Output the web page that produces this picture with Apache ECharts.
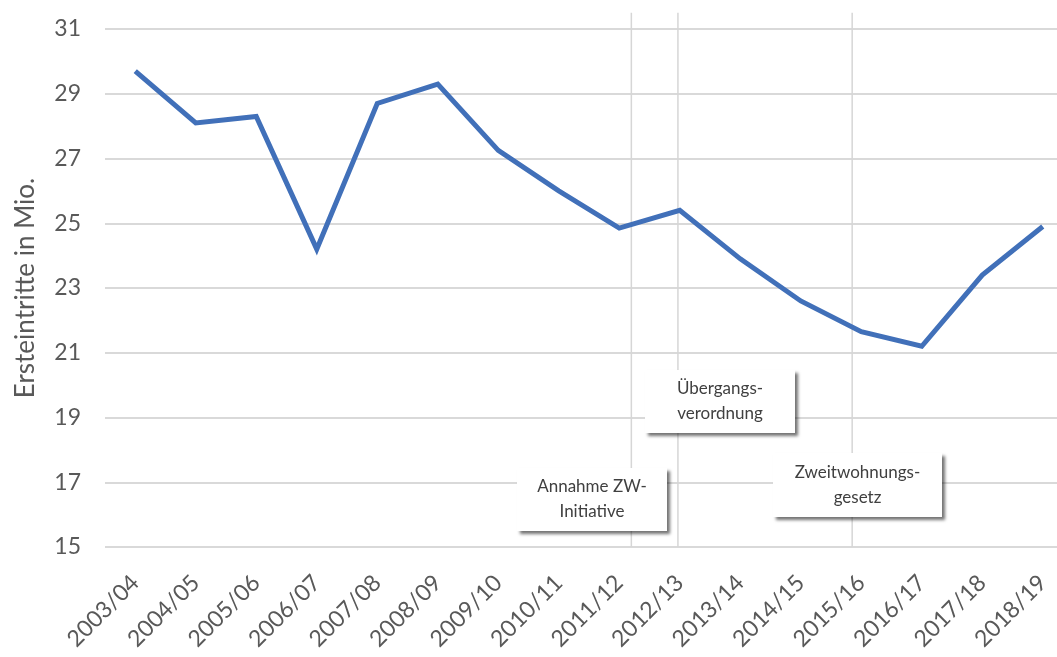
<!DOCTYPE html>
<html>
<head>
<meta charset="utf-8">
<script src="https://cdn.jsdelivr.net/npm/echarts@6/dist/echarts.min.js"></script>
<style>
  html, body { margin: 0; padding: 0; background: #fff; }
  #chart { width: 1057px; height: 657px; }
</style>
</head>
<body>
<div id="chart"></div>
<script>
// Saisons und Ersteintritte (Mio.)
const seasons = [
  "2003/04", "2004/05", "2005/06", "2006/07", "2007/08", "2008/09",
  "2009/10", "2010/11", "2011/12", "2012/13", "2013/14", "2014/15",
  "2015/16", "2016/17", "2017/18", "2018/19"
];
const firstEntries = [
  29.7, 28.1, 28.3, 24.2, 28.7, 29.3,
  27.25, 26.0, 24.85, 25.4, 23.9, 22.6,
  21.65, 21.2, 23.4, 24.9
];

// Ereignisse (Position auf der Saison-Achse, 0 = 2003/04)
const eventPos = [8.2, 8.97, 11.85];

const yTicks = { min: 15, max: 31, step: 2 };

const font = "Lato, 'Open Sans', sans-serif";
const grey = "#595959";

const dom = document.getElementById("chart");
const chart = echarts.init(dom, null, { renderer: "canvas" });

// Kasten mit Schatten + zweizeiliger Text
function noteBox(x, y, w, h, text) {
  return {
    type: "group",
    left: x, top: y,
    z: 100,
    children: [
      {
        type: "rect",
        z: 100,
        shape: { x: 0, y: 0, width: w, height: h },
        style: {
          fill: "#fff",
          shadowBlur: 3,
          shadowOffsetX: 3,
          shadowOffsetY: 3,
          shadowColor: "rgba(0,0,0,0.55)"
        }
      },
      {
        type: "text",
        z: 101,
        x: w / 2, y: h / 2,
        style: {
          text: text,
          fontFamily: font,
          fontSize: 17,
          lineHeight: 25,
          fill: "#404040",
          align: "center",
          verticalAlign: "middle"
        }
      }
    ]
  };
}

// senkrechte Ereignislinien
const eventSeries = eventPos.map(p => ({
  type: "line",
  xAxisIndex: 1,
  data: [[p, 31.5], [p, 15]],
  symbol: "none",
  silent: true,
  clip: false,
  z: 1,
  lineStyle: { color: "#d6d6d6", width: 1.5 }
}));

const option = {
  backgroundColor: "#fff",
  animation: false,
  grid: {
    left: 105, right: -16, top: 29, bottom: 110,
    outerBoundsMode: "none"
  },
  xAxis: [
    {
      type: "category",
      data: seasons,
      boundaryGap: true,
      axisLine: { show: false },
      axisTick: { show: false },
      axisLabel: {
        rotate: 45,
        margin: 32,
        color: grey,
        fontFamily: font,
        fontSize: 23
      }
    },
    { type: "value", min: -0.5, max: 15.5, show: false }
  ],
  yAxis: {
    type: "value",
    min: yTicks.min,
    max: yTicks.max,
    interval: yTicks.step,
    name: "Ersteintritte in Mio.",
    nameLocation: "middle",
    nameRotate: 90,
    nameGap: 66,
    nameTextStyle: { color: grey, fontFamily: font, fontSize: 26 },
    axisLine: { show: false },
    axisTick: { show: false },
    axisLabel: { color: grey, fontFamily: font, fontSize: 23, margin: 24 },
    splitLine: { lineStyle: { color: "#d9d9d9", width: 2 } }
  },
  series: eventSeries.concat([
    {
      type: "line",
      name: "Ersteintritte",
      data: firstEntries,
      symbol: "none",
      z: 10,
      lineStyle: { color: "#4170b9", width: 5, join: "miter" }
    }
  ]),
  graphic: [
    noteBox(517, 468, 150, 63, "Annahme ZW-\nInitiative"),
    noteBox(645, 370, 150, 63, "Übergangs-\nverordnung"),
    noteBox(773, 453, 169, 64, "Zweitwohnungs-\ngesetz")
  ]
};

chart.setOption(option);
</script>
</body>
</html>
